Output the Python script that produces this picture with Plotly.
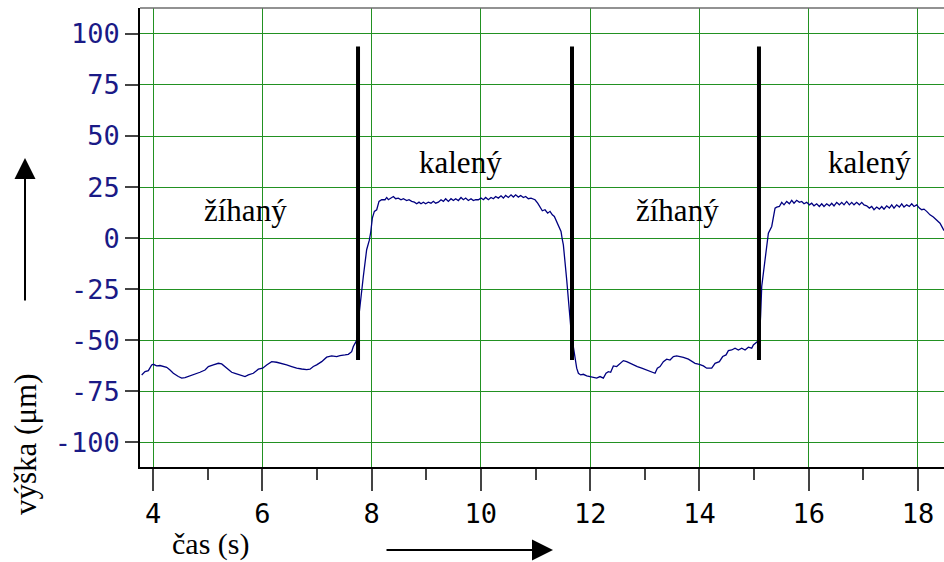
import plotly.graph_objects as go

# ---- data ----
cas_s = [
    3.793, 3.854, 3.915, 3.976, 4.006, 4.067, 4.128, 4.189, 4.250, 4.311, 4.372, 4.464, 4.525,
    4.586, 4.677, 4.769, 4.860, 4.952, 5.013, 5.104, 5.196, 5.257, 5.318, 5.379, 5.440, 5.501,
    5.562, 5.623, 5.684, 5.745, 5.836, 5.928, 6.007, 6.080, 6.172, 6.263, 6.355, 6.446, 6.538,
    6.629, 6.721, 6.812, 6.873, 6.934, 6.995, 7.087, 7.178, 7.270, 7.361, 7.422, 7.514, 7.575,
    7.636, 7.666, 7.715, 7.728,
    7.760, 7.801, 7.849, 7.910, 7.959, 7.985, 8.014, 8.051, 8.094, 8.136,
    8.185, 8.246, 8.277, 8.307, 8.356, 8.399, 8.441, 8.490, 8.539, 8.582, 8.643, 8.685, 8.734,
    8.783, 8.826, 8.868, 8.905, 8.948, 8.990, 9.039, 9.088, 9.131, 9.173, 9.222, 9.271, 9.314,
    9.356, 9.405, 9.454, 9.497, 9.539, 9.588, 9.637, 9.680, 9.722, 9.771, 9.820, 9.863, 9.905,
    9.954, 10.003, 10.046, 10.088, 10.137, 10.186, 10.229, 10.271, 10.320, 10.369, 10.412,
    10.454, 10.503, 10.552, 10.595, 10.637, 10.686, 10.729, 10.778, 10.820, 10.869, 10.918,
    10.991, 11.040, 11.083, 11.125, 11.174, 11.223, 11.266, 11.308, 11.345, 11.388, 11.430,
    11.467, 11.491, 11.510,
    11.571, 11.619, 11.650, 11.692,
    11.724, 11.754, 11.785, 11.827, 11.876, 11.937, 11.998, 12.059, 12.120, 12.181, 12.242,
    12.291, 12.334, 12.376, 12.425, 12.486, 12.547, 12.608, 12.669, 12.730, 12.791, 12.864,
    12.944, 13.035, 13.127, 13.188, 13.230, 13.279, 13.340, 13.401, 13.462, 13.523, 13.584,
    13.645, 13.706, 13.798, 13.859, 13.920, 13.999, 14.072, 14.133, 14.225, 14.286, 14.365,
    14.426, 14.487, 14.530, 14.591, 14.652, 14.713, 14.774, 14.835, 14.896, 14.957, 14.987,
    15.048, 15.097,
    15.120, 15.140, 15.201, 15.262, 15.323, 15.384, 15.414, 15.463,
    15.506, 15.548, 15.597, 15.646, 15.689, 15.731, 15.780, 15.829, 15.872, 15.914, 15.963,
    16.012, 16.055, 16.097, 16.146, 16.195, 16.238, 16.280, 16.329, 16.378, 16.421, 16.463,
    16.512, 16.561, 16.604, 16.646, 16.695, 16.744, 16.787, 16.829, 16.878, 16.927, 16.970,
    17.012, 17.061, 17.110, 17.153, 17.195, 17.244, 17.293, 17.336, 17.378, 17.427, 17.476,
    17.519, 17.561, 17.610, 17.659, 17.702, 17.744, 17.793, 17.842, 17.885, 17.927, 17.976,
    18.025, 18.068, 18.110, 18.159, 18.220, 18.281, 18.342, 18.403, 18.452, 18.477,
]
vyska_um = [
    -67.0, -65.4, -64.9, -62.1, -61.8, -62.6, -62.4, -62.9, -63.3, -64.6, -66.2, -67.8, -68.6,
    -68.3, -67.5, -66.7, -65.7, -64.6, -62.9, -62.1, -61.3, -61.6, -62.9, -64.6, -65.7, -66.2,
    -66.7, -67.0, -67.8, -67.0, -66.2, -64.2, -63.7, -62.1, -60.5, -60.8, -61.3, -62.1, -62.9,
    -63.7, -64.1, -64.4, -64.2, -62.9, -62.1, -60.5, -58.3, -57.7, -58.0, -57.5, -57.2, -56.9,
    -55.6, -53.1, -50.7, -49.9,
    -40.0, -28.6, -18.8, -5.7, -1.0, 3.0, 9.8, 13.1, 13.9, 18.0,
    18.8, 18.8, 19.9, 18.8, 19.9, 20.4, 19.3, 19.6, 18.8, 19.3, 18.4, 18.8, 18.0,
    17.6, 16.8, 17.6, 16.8, 17.6, 16.8, 17.6, 17.1, 18.0, 17.1, 17.6, 18.8, 18.0,
    19.3, 18.0, 19.3, 18.4, 19.3, 18.4, 19.9, 18.8, 19.6, 18.4, 19.3, 18.4, 18.8,
    18.8, 19.6, 18.8, 19.9, 18.8, 19.9, 19.3, 20.4, 19.6, 20.7, 19.6,
    20.9, 19.9, 21.2, 20.1, 21.2, 20.1, 20.9, 19.9, 20.4, 19.3, 19.6,
    18.8, 17.1, 15.5, 13.4, 13.9, 12.2, 13.1, 11.4, 10.6, 8.2, 5.7,
    3.3, -0.8, -3.3,
    -20.4, -35.1, -45.0, -53.1,
    -59.7, -63.7, -66.2, -67.0, -66.7, -67.5, -67.8, -68.2, -68.6, -67.8, -68.6,
    -66.2, -65.4, -65.7, -62.6, -62.9, -61.3, -60.0, -60.5, -61.3, -62.1, -62.9,
    -63.7, -64.6, -65.4, -66.2, -63.7, -62.9, -60.5, -59.3, -59.7, -58.0, -57.7,
    -58.0, -58.4, -59.3, -60.5, -61.3, -61.8, -62.6, -63.7, -63.7, -61.3, -60.5,
    -58.0, -57.2, -55.1, -54.8, -53.9, -54.8, -53.9, -54.8, -53.4, -53.9, -52.3,
    -50.7, -49.9,
    -38.0, -23.7, -10.6, 2.4, 5.7, 14.7, 15.2, 15.5,
    17.5, 16.3, 17.96, 16.8, 18.5, 17.1, 18.5, 17.5, 17.96, 16.8, 17.5,
    16.3, 17.1, 15.8, 16.8, 15.5, 16.8, 15.5, 16.8, 15.8, 17.1, 15.8,
    17.5, 16.3, 17.5, 16.3, 17.96, 16.3, 17.5, 16.3, 17.5, 16.3, 17.5,
    16.3, 15.8, 14.7, 15.5, 13.9, 15.2, 14.2, 15.5, 14.2, 15.8, 14.7,
    16.3, 14.7, 16.3, 15.2, 16.8, 15.2, 16.3, 15.5, 16.8, 15.5, 16.3,
    14.7, 13.9, 14.2, 13.1, 11.4, 10.3, 8.6, 7.3, 4.9, 3.7,
]

# boundaries between annealed / hardened regions (s) and marker extent (um)
hranice_s = [7.752, 11.668, 15.09]
hranice_od = -59.7
hranice_do = 93.8

popisky = ["žíhaný", "kalený", "žíhaný", "kalený"]
popisky_x = [5.70, 9.62, 13.59, 17.12]
popisky_y = [13.4, 36.9, 13.4, 36.9]

y_ticks = [-100, -75, -50, -25, 0, 25, 50, 75, 100]
x_ticks = [4, 6, 8, 10, 12, 14, 16, 18]

GRID = "rgb(34,145,34)"
NAVY = "#1a1a86"
SERIF = "Liberation Serif"
MONO = "DejaVu Sans Mono"

fig = go.Figure()
fig.add_trace(go.Scatter(x=cas_s, y=vyska_um, mode="lines",
                         line=dict(color="#000080", width=1.3), showlegend=False,
                         hoverinfo="skip"))

for xb in hranice_s:
    fig.add_shape(type="line", xref="x", yref="y", x0=xb, x1=xb,
                  y0=hranice_od, y1=hranice_do, line=dict(color="black", width=4))

# top frame line
fig.add_shape(type="line", xref="paper", yref="paper", x0=0, x1=1, y0=1, y1=1,
              line=dict(color="#6e6e6e", width=1.5))

for t, xx, yy in zip(popisky, popisky_x, popisky_y):
    fig.add_annotation(x=xx, y=yy, xref="x", yref="y", text=t, showarrow=False,
                       xanchor="center", yanchor="middle",
                       font=dict(family=SERIF, size=31, color="black"))

# axis titles
fig.add_annotation(xref="paper", yref="paper", x=(25 - 140) / 804, y=(467 - 445) / 459,
                   text="výška (μm)", textangle=-90, showarrow=False,
                   xanchor="center", yanchor="middle",
                   font=dict(family=SERIF, size=31, color="black"))
fig.add_annotation(xref="paper", yref="paper", x=(210 - 140) / 804, y=(467 - 544) / 459,
                   text="čas (s)", showarrow=False, xanchor="center", yanchor="middle",
                   borderpad=0,
                   font=dict(family=SERIF, size=30, color="black"))

# arrows
fig.add_annotation(xref="paper", yref="paper", x=(25 - 140) / 804, y=(467 - 158) / 459,
                   ax=0, ay=144, text="", showarrow=True, arrowhead=2,
                   arrowsize=2.1, arrowwidth=2, arrowcolor="black")
fig.add_annotation(xref="paper", yref="paper", x=(553 - 140) / 804, y=(467 - 550) / 459,
                   ax=-168, ay=0, text="", showarrow=True, arrowhead=2,
                   arrowsize=2.1, arrowwidth=2, arrowcolor="black")

fig.update_layout(
    width=944, height=562, template="none",
    margin=dict(l=140, r=0, t=8, b=95, pad=0),
    paper_bgcolor="white", plot_bgcolor="white",
    showlegend=False,
)
fig.update_xaxes(
    range=[3.762, 18.476], tickvals=x_ticks, ticktext=[str(v) for v in x_ticks],
    showgrid=True, gridcolor=GRID, gridwidth=1, zeroline=False,
    showline=True, linecolor="black", linewidth=1.5,
    ticks="outside", ticklen=22, tickwidth=1.5, tickcolor="#444",
    tickfont=dict(family=MONO, size=27, color="black"),
    minor=dict(dtick=1, tick0=0, ticks="outside", ticklen=11, tickwidth=1.5,
               tickcolor="#444", showgrid=False),
    automargin=False,
)
fig.update_yaxes(
    range=[-112.1, 112.7], tickvals=y_ticks, ticktext=[str(v) for v in y_ticks],
    showgrid=True, gridcolor=GRID, gridwidth=1, zeroline=False,
    showline=True, linecolor="black", linewidth=1.5,
    ticks="outside", ticklen=13, tickwidth=1.5, tickcolor="#444",
    tickfont=dict(family=MONO, size=27, color=NAVY),
    automargin=False,
)

fig.write_html("out.html")
